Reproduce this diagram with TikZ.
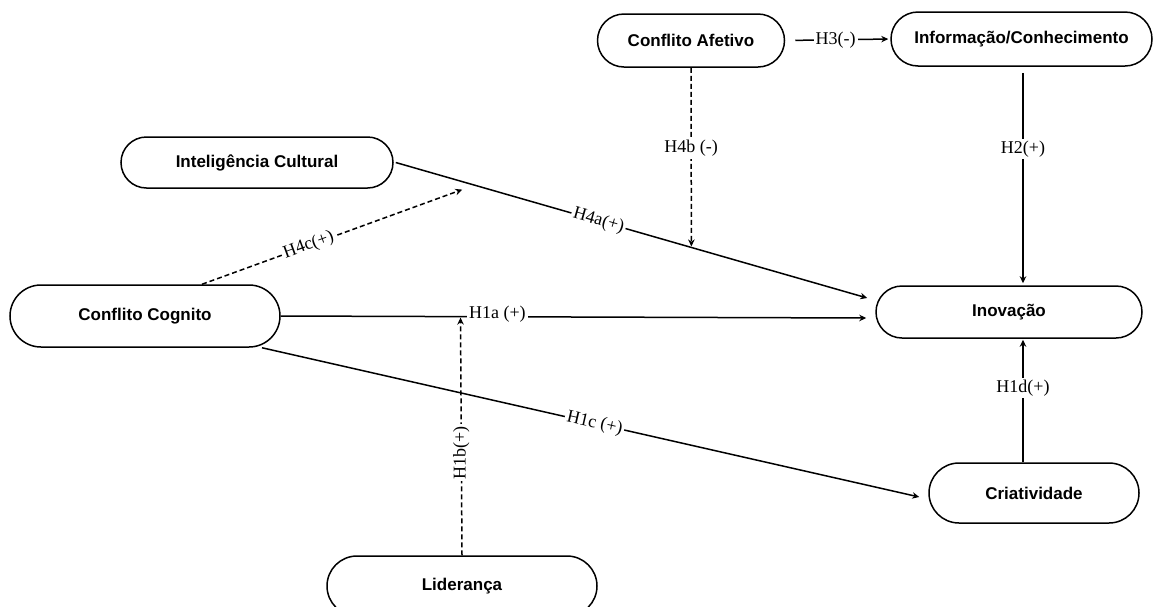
\documentclass[tikz,border=0pt]{standalone}
\usepackage{fontspec}
\setmainfont{Liberation Serif}
\setsansfont{Liberation Sans}
\usetikzlibrary{arrows.meta,shapes.misc}
\begin{document}
\begin{tikzpicture}[x=1pt,y=-1pt,
  boxnode/.style={draw, line width=1.5pt, rounded rectangle, inner sep=0pt,
    font=\sffamily\bfseries\fontsize{17}{19}\selectfont},
  conn/.style={line width=1.5pt, -{Stealth[length=7pt,width=6.5pt]}},
  dconn/.style={conn, dash pattern=on 5pt off 3pt},
  lbl/.style={fill=white, inner sep=2pt, font=\rmfamily\fontsize{18}{20}\selectfont}]
\useasboundingbox (0,0) rectangle (1154,606);
% nodes
\node[boxnode, minimum width=187pt, minimum height=53pt] (afet) at (691,40.5) {Conflito Afetivo};
\node[boxnode, minimum width=261pt, minimum height=54pt] (info) at (1021.5,39) {Informação/Conhecimento};
\node[boxnode, minimum width=272pt, minimum height=51pt] (intel) at (257,162.5) {Inteligência Cultural};
\node[boxnode, minimum width=270pt, minimum height=62pt] (cogn) at (145,316) {Conflito Cognito};
\node[boxnode, minimum width=266pt, minimum height=52pt] (inov) at (1009,312) {Inovação};
\node[boxnode, minimum width=210pt, minimum height=60pt] (crit) at (1034,493) {Criatividade};
\node[boxnode, minimum width=270pt, minimum height=60pt] (lid) at (462,586) {Liderança};
% H3
\draw[conn, shorten <=10pt, shorten >=2pt] (afet.east) -- node[lbl, pos=0.48] {H3(-)} (info.west);
% H2
\draw[conn, shorten >=2pt] ([yshift=-6pt]info.south -| 1023,0) -- node[lbl, pos=0.36] {H2(+)} (inov.north -| 1023,0);
% H1d
\draw[conn, shorten >=1pt] (crit.north -| 1023,0) -- node[lbl, pos=0.6] {H1d(+)} (inov.south -| 1023,0);
% H4a
\draw[conn] ([xshift=2pt]intel.east) -- coordinate[pos=0.141] (m4c) coordinate[pos=0.627] (m4b)
  node[lbl, sloped, pos=0.43] {H4a(+)} ([xshift=-8pt,yshift=14pt]inov.west);
% H4b
\draw[dconn, shorten >=1pt] (afet.south) -- node[lbl, pos=0.45] {H4b (-)} (m4b);
% H4c
\draw[dconn] ([xshift=57pt]cogn.north) -- node[lbl, sloped, pos=0.41] {H4c(+)} ([yshift=-8pt]m4c);
% H1a
\draw[conn] (cogn.east) -- coordinate[pos=0.307] (m1a) node[lbl, pos=0.37, yshift=3pt] {H1a (+)}
  ([xshift=-9pt,yshift=-6pt]inov.west);
% H1b
\draw[dconn, shorten >=1pt] (lid.north) -- node[lbl, rotate=90, pos=0.43] {H1b(+)} (m1a);
% H1c
\draw[conn] ([xshift=117pt]cogn.south) -- node[lbl, sloped, pos=0.506] {H1c (+)} ([xshift=-9pt,yshift=-4pt]crit.west);
\end{tikzpicture}
\end{document}
